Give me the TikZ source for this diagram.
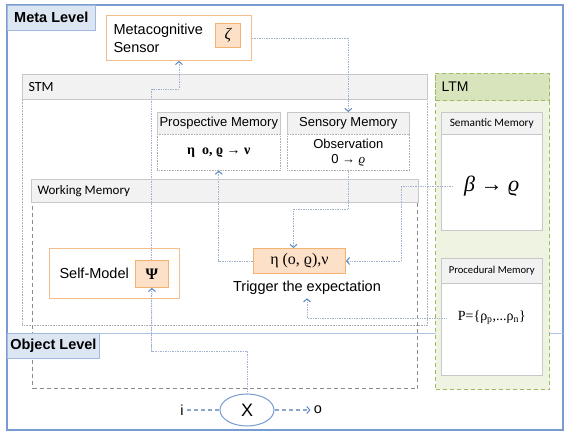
\documentclass[tikz,border=0pt]{standalone}
\usepackage{fontspec}
\setmainfont{Liberation Sans}
\newfontfamily\calib{Carlito}
\newfontfamily\tms{Liberation Serif}
\usetikzlibrary{arrows.meta,positioning,shapes.geometric}
\definecolor{frameblue}{RGB}{120,155,210}
\definecolor{lvlfill}{RGB}{220,230,242}
\definecolor{hdrfill}{RGB}{242,242,242}
\definecolor{hdrline}{RGB}{200,200,200}
\definecolor{bodyline}{RGB}{175,175,175}
\definecolor{orgline}{RGB}{243,190,140}
\definecolor{orgfill}{RGB}{252,224,200}
\definecolor{wmgray}{RGB}{140,140,140}
\definecolor{ltmline}{RGB}{160,185,100}
\definecolor{ltmhdr}{RGB}{216,228,188}
\definecolor{ltmfill}{RGB}{238,243,226}
\definecolor{connline}{RGB}{160,178,205}
\definecolor{tipblue}{RGB}{90,135,200}
\definecolor{dashblue}{RGB}{140,165,205}

\begin{document}
\begin{tikzpicture}[x=1pt, y=-1pt,
  lvl/.style={draw=frameblue!70, fill=lvlfill, line width=0.6pt, anchor=north west,
    minimum width=88pt, minimum height=25pt, inner xsep=3pt, inner ysep=0pt,
    font=\bfseries\fontsize{14.5}{17}\selectfont},
  hdr/.style={draw=hdrline, fill=hdrfill, line width=0.6pt, anchor=north west, inner sep=0pt},
  bodybox/.style={draw=bodyline, densely dotted, fill=white, line width=0.6pt, anchor=north west, inner sep=0pt},
  obox/.style={draw=orgline, fill=white, line width=0.9pt, anchor=north west, inner sep=0pt},
  sym/.style={draw=orgline!80!orange, fill=orgfill, line width=0.9pt, anchor=north west, inner sep=0pt},
  conn/.style={draw=connline, densely dotted, line width=0.7pt},
  tip/.style={-{Straight Barb[length=3pt, width=7pt, color=tipblue, line width=1pt]}},
  dashline/.style={draw=dashblue, line width=1.3pt, dash pattern=on 4pt off 3pt},
  big/.style={font=\fontsize{14.5}{17}\selectfont},
  mid/.style={font=\fontsize{13}{15}\selectfont}
]
\useasboundingbox (0,0) rectangle (570,436);
% Frame
\draw[frameblue, line width=1.3pt] (7,5) rectangle (563,430);
\draw[frameblue!60, line width=0.8pt] (7,333) -- (563,333);
% STM
\node[bodybox, minimum width=405, minimum height=226] (stm) at (22,99) {};
\node[hdr, minimum width=405, minimum height=25] (stmhd) at (22,74) {};
\node[anchor=west, font=\calib\fontsize{14}{16}\selectfont] (stmtxt) at ([xshift=3pt]stmhd.west) {STM};
\node[hdr, minimum width=123, minimum height=22, mid] (prosphd) at (157,112) {Prospective Memory};
\node[bodybox, minimum width=123, minimum height=36] (prosp) at (157,134) {};
\node[font=\tms\bfseries\fontsize{14}{16}\selectfont] (prosptxt) at (prosp.center) {η\enspace o, ϱ → ν};
\node[hdr, minimum width=122, minimum height=22, mid] (senshd) at (287,112) {Sensory Memory};
\node[bodybox, minimum width=122, minimum height=36, align=center, font=\fontsize{13}{15}\selectfont] (sens) at (287,134) {Observation\\0 → {\tms\itshape ϱ}};
% Working memory
\node[draw=wmgray, line width=1pt, dash pattern=on 4pt off 3pt, anchor=north west, minimum width=385, minimum height=186] (wm) at (32,202) {};
\node[hdr, minimum width=387, minimum height=23] (wmhd) at (31,179) {};
\node[anchor=west, font=\calib\fontsize{13}{15}\selectfont] (wmtxt) at ([xshift=3pt]wmhd.west) {Working Memory};
\node[obox, minimum width=130, minimum height=50] (selfm) at (49,248) {};
\node[anchor=west, big] (selftxt) at ([xshift=7pt]selfm.west) {Self-Model};
\node[sym, minimum width=92, minimum height=25, font=\tms\fontsize{16}{18}\selectfont] (trig) at (253,248) {η (o, ϱ),ν};
\node[big] (trigtxt) at (307,288) {Trigger the expectation};
% LTM
\node[draw=ltmline, dash pattern=on 4pt off 3pt, fill=ltmfill, line width=1pt, anchor=north west, minimum width=114, minimum height=316] (ltm) at (435,73) {};
\node[draw=ltmline, dash pattern=on 4pt off 3pt, fill=ltmhdr, line width=1pt, anchor=north west, minimum width=114, minimum height=27] (ltmhd) at (435,73) {};
\node[anchor=west, font=\fontsize{14}{16}\selectfont] (ltmtxt) at ([xshift=3pt]ltmhd.west) {LTM};
\node[draw=hdrline, fill=white, line width=0.6pt, anchor=north west, minimum width=101, minimum height=96] (sem) at (441,134) {};
\node[hdr, minimum width=101, minimum height=22, font=\calib\fontsize{11.3}{13}\selectfont] (semhd) at (441,112) {Semantic Memory};
\node[font=\tms\itshape\fontsize{22}{24}\selectfont] (beta) at ([yshift=-52pt]sem.north) {β → ϱ};
\node[draw=hdrline, fill=white, line width=0.6pt, anchor=north west, minimum width=101, minimum height=92] (proc) at (441,283) {};
\node[hdr, minimum width=101, minimum height=25, font=\calib\fontsize{10.6}{12}\selectfont] (prochd) at (441,258) {Procedural Memory};
\node[font=\tms\fontsize{14}{16}\selectfont] (pset) at ([yshift=-35pt]proc.north) {P=\{ρ\textsubscript{p},...ρ\textsubscript{n}\}};
% Levels
\node[lvl] (metalbl) at (7,5) {Meta Level};
\node[lvl] (objlbl) at (7,333) {Object Level};
% Sensor
\node[obox, minimum width=145, minimum height=45] (sensor) at (106,15) {};
\node[anchor=west, align=left, font=\fontsize{14.5}{18}\selectfont] (sensortxt) at ([xshift=4pt]sensor.west) {Metacognitive\\Sensor};
\node[sym, minimum width=25, minimum height=24, font=\tms\itshape\fontsize{16}{18}\selectfont] (zeta) at (215,23) {ζ};
% Input and output
\node[ellipse, draw=frameblue, fill=white, line width=1pt, minimum width=54, minimum height=32, font=\fontsize{18}{20}\selectfont] (X) at (247,410) {X};
\node[big] (inp) at (182,410) {i};
\node[big] (outp) at (318,410) {o};
\draw[dashline] (inp) -- (X);
\draw[dashline, tip] (X) -- (outp);
% Connectors
\coordinate (spine) at (151.5,351);
\draw[conn, tip] (sensor.east) -| (senshd.north);
\draw[conn, tip] (X.north) |- (spine) |- ([yshift=-28pt]sensor.south) -- (sensor.south);
\draw[conn, tip] (sens.south) |- ([xshift=-6pt, yshift=39pt]trig.north) -- ([xshift=-6pt]trig.north);
\draw[conn, tip] (trig.west) -| (prosp.south);
\coordinate (semjog) at (401,0);
\draw[conn, tip] ([xshift=-8pt]beta.west) -| (semjog |- trig.east) -- (trig.east);
\draw[conn, tip] ([xshift=-8pt]pset.west) -| (trigtxt.south);
\node[sym, minimum width=33, minimum height=27, font=\tms\bfseries\fontsize{16}{18}\selectfont] (psi) at (135,260) {Ψ};
\draw[conn, tip] (spine) -- (psi.south);
\end{tikzpicture}
\end{document}
